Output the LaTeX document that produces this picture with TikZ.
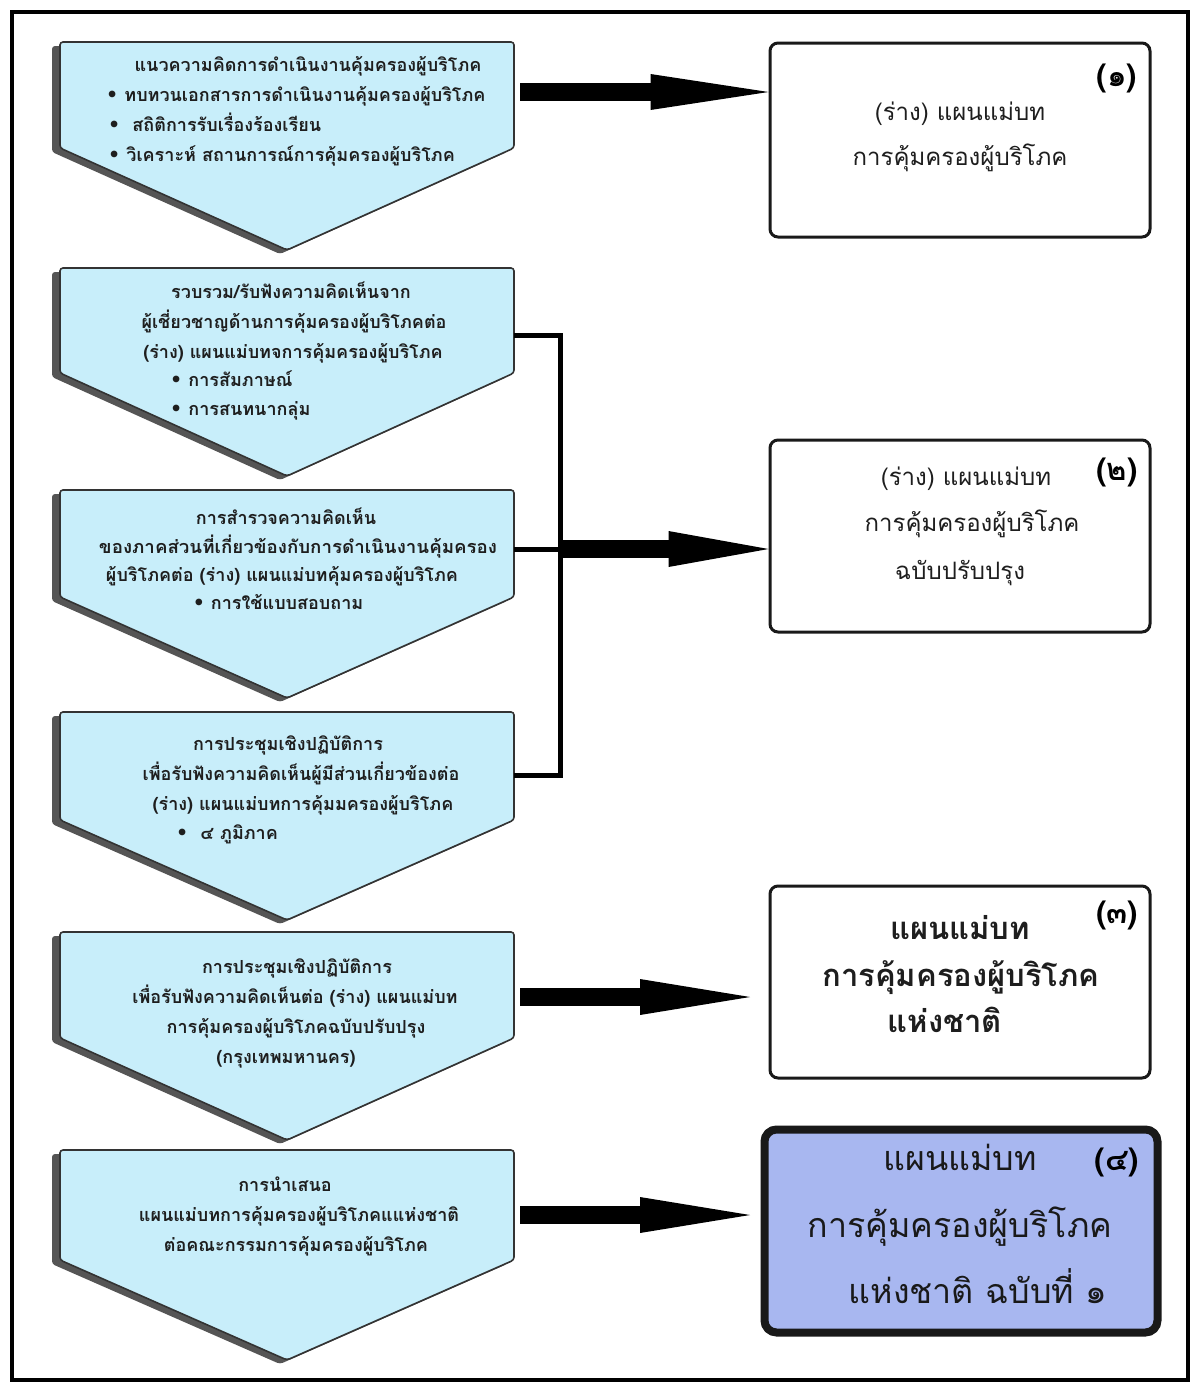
\documentclass[tikz,border=0pt]{standalone}
\usepackage{fontspec}
\newfontfamily\thai[Script=Thai]{Loma}
\newfontfamily\dvs{DejaVu Sans}
\usetikzlibrary{calc}
\definecolor{boxfill}{RGB}{200,238,250}
\definecolor{rfill}{RGB}{168,183,240}
\definecolor{shadowc}{RGB}{85,85,85}
\definecolor{txt}{RGB}{30,30,30}
\newcommand{\bul}{{\dvs\fontsize{19}{19}\selectfont •}}
\newcommand{\lshape}[3]{%
  \fill[shadowc, rounded corners=3] (52,#1+4) -- (507,#1+4) -- (507,#2+4) -- (280,#3+4) -- (52,#2+4) -- cycle;
  \draw[lbox] (60,#1) -- (514,#1) -- (514,#2) -- (287,#3) -- (60,#2) -- cycle;}
\newcommand{\fatarrow}[3]{%
  \draw[line width=18pt] (#1) -- ($(#2)+(-#3+1,0)$);
  \fill ($(#2)+(-#3,-18)$) -- (#2) -- ($(#2)+(-#3,18)$) -- cycle;}
\tikzset{
  lbox/.style={fill=boxfill, draw=black!80, line width=1.6pt, rounded corners=3},
  rbox/.style={draw=black!90, line width=3pt, rounded corners=8, fill=white, inner sep=0},
  lt/.style={font=\thai\bfseries\fontsize{18}{20}\selectfont, text=txt, inner sep=0, anchor=base},
  ltw/.style={lt, anchor=base west},
  ra/.style={font=\thai\fontsize{24}{28}\selectfont, text=txt, inner sep=0, anchor=base},
  rc/.style={font=\thai\bfseries\fontsize{31}{34}\selectfont, text=txt, inner sep=0, anchor=base},
  rd/.style={font=\thai\fontsize{34}{38}\selectfont, text=black!90, inner sep=0, anchor=base},
  lab/.style={font=\thai\bfseries\fontsize{31}{34}\selectfont, text=black, inner sep=0, anchor=base},
}
\begin{document}
\begin{tikzpicture}[x=1pt,y=-1pt]
\useasboundingbox (0,0) rectangle (1198,1385);
\fill[white] (0,0) rectangle (1198,1385);
\draw[line width=4pt] (12,12) rectangle (1188,1380);

% left shapes
\lshape{42}{148}{250}
\lshape{268}{373}{476}
\lshape{490}{597}{698}
\lshape{712}{820}{920}
\lshape{932}{1038}{1140}
\lshape{1150}{1260}{1360}

% box 1 text
\node[lt] (a1) at (308,71) {แนวความคิดการดำเนินงานคุ้มครองผู้บริโภค};
\node[ltw] (a2) at (106,101) {\bul\ ทบทวนเอกสารการดำเนินงานคุ้มครองผู้บริโภค};
\node[ltw] (a3) at (108,131) {\bul\ \ สถิติการรับเรื่องร้องเรียน};
\node[ltw] (a4) at (108,161) {\bul\ วิเคราะห์ สถานการณ์การคุ้มครองผู้บริโภค};
% box 2
\node[lt] (b1) at (291,298) {รวบรวม/รับฟังความคิดเห็นจาก};
\node[lt] (b2) at (294,328) {ผู้เชี่ยวชาญด้านการคุ้มครองผู้บริโภคต่อ};
\node[lt] (b3) at (293,358) {(ร่าง) แผนแม่บทจการคุ้มครองผู้บริโภค};
\node[ltw] (b4) at (170,386) {\bul\ การสัมภาษณ์};
\node[ltw] (b5) at (170,415) {\bul\ การสนทนากลุ่ม};
% box 3
\node[lt] (c1) at (286,524) {การสำรวจความคิดเห็น};
\node[lt, xscale=1.04] (c2) at (298,553) {ของภาคส่วนที่เกี่ยวข้องกับการดำเนินงานคุ้มครอง};
\node[lt] (c3) at (282,581) {ผู้บริโภคต่อ (ร่าง) แผนแม่บทคุ้มครองผู้บริโภค};
\node[lt] (c4) at (278,609) {\bul\ การใช้แบบสอบถาม};
% box 4
\node[lt] (d1) at (288,750) {การประชุมเชิงปฏิบัติการ};
\node[lt] (d2) at (301,780) {เพื่อรับฟังความคิดเห็นผู้มีส่วนเกี่ยวข้องต่อ};
\node[lt] (d3) at (303,810) {(ร่าง) แผนแม่บทการคุ้มมครองผู้บริโภค};
\node[ltw] (d4) at (176,839) {\bul\ \ ๔ ภูมิภาค};
% box 5
\node[lt] (e1) at (297,973) {การประชุมเชิงปฏิบัติการ};
\node[lt] (e2) at (295,1003) {เพื่อรับฟังความคิดเห็นต่อ (ร่าง) แผนแม่บท};
\node[lt] (e3) at (296,1033) {การคุ้มครองผู้บริโภคฉบับปรับปรุง};
\node[lt] (e4) at (286,1063) {(กรุงเทพมหานคร)};
% box 6
\node[lt] (f1) at (285,1191) {การนำเสนอ};
\node[lt] (f2) at (299,1221) {แผนแม่บทการคุ้มครองผู้บริโภคแแห่งชาติ};
\node[lt] (f3) at (296,1251) {ต่อคณะกรรมการคุ้มครองผู้บริโภค};

% right boxes
\node[rbox, minimum width=380pt, minimum height=194pt] (r1) at (960,140) {};
\node[rbox, minimum width=380pt, minimum height=192pt] (r2) at (960,536) {};
\node[rbox, minimum width=380pt, minimum height=192pt] (r3) at (960,982) {};
\node[rbox, fill=rfill, line width=8pt, rounded corners=12, minimum width=393pt, minimum height=203pt] (r4) at (961,1231) {};

\node[ra] (r1a) at (960,120) {(ร่าง) แผนแม่บท};
\node[ra] (r1b) at (960,165) {การคุ้มครองผู้บริโภค};
\node[lab] (r1n) at (1117,86) {(๑)};
\node[ra] (r2a) at (966,485) {(ร่าง) แผนแม่บท};
\node[ra] (r2b) at (972,531) {การคุ้มครองผู้บริโภค};
\node[ra] (r2c) at (960,579) {ฉบับปรับปรุง};
\node[lab] (r2n) at (1117,480) {(๒)};
\node[rc] (r3a) at (960,939) {แผนแม่บท};
\node[rc] (r3b) at (961,986) {การคุ้มครองผู้บริโภค};
\node[rc] (r3c) at (945,1032) {แห่งชาติ};
\node[lab] (r3n) at (1117,923) {(๓)};
\node[rd] (r4a) at (960,1170) {แผนแม่บท};
\node[rd] (r4b) at (960,1237) {การคุ้มครองผู้บริโภค};
\node[rd] (r4c) at (978,1303) {แห่งชาติ ฉบับที่ ๑};
\node[lab] (r4n) at (1117,1170) {(๔)};

% connectors
\coordinate (s1) at (520,92);
\coordinate (s3) at (520,997);
\coordinate (t3) at (750,997);
\coordinate (s4) at (520,1215);
\coordinate (t4) at (750,1215);
\coordinate (k2) at (514,335);
\coordinate (k3) at (514,549);
\coordinate (k4) at (514,775);
\coordinate (jt) at (560,335);
\coordinate (jm) at (560,549);
\coordinate (jb) at (560,775);
\draw[line width=5pt, line join=miter] (k2) -- (jt) -- (jb) -- (k4);
\draw[line width=5pt] (k3) -- (jm);
\fatarrow{s1}{s1 -| r1.west}{118}
\fatarrow{jm}{jm -| r2.west}{100}
\fatarrow{s3}{t3}{110}
\fatarrow{s4}{t4}{110}
\end{tikzpicture}
\end{document}
